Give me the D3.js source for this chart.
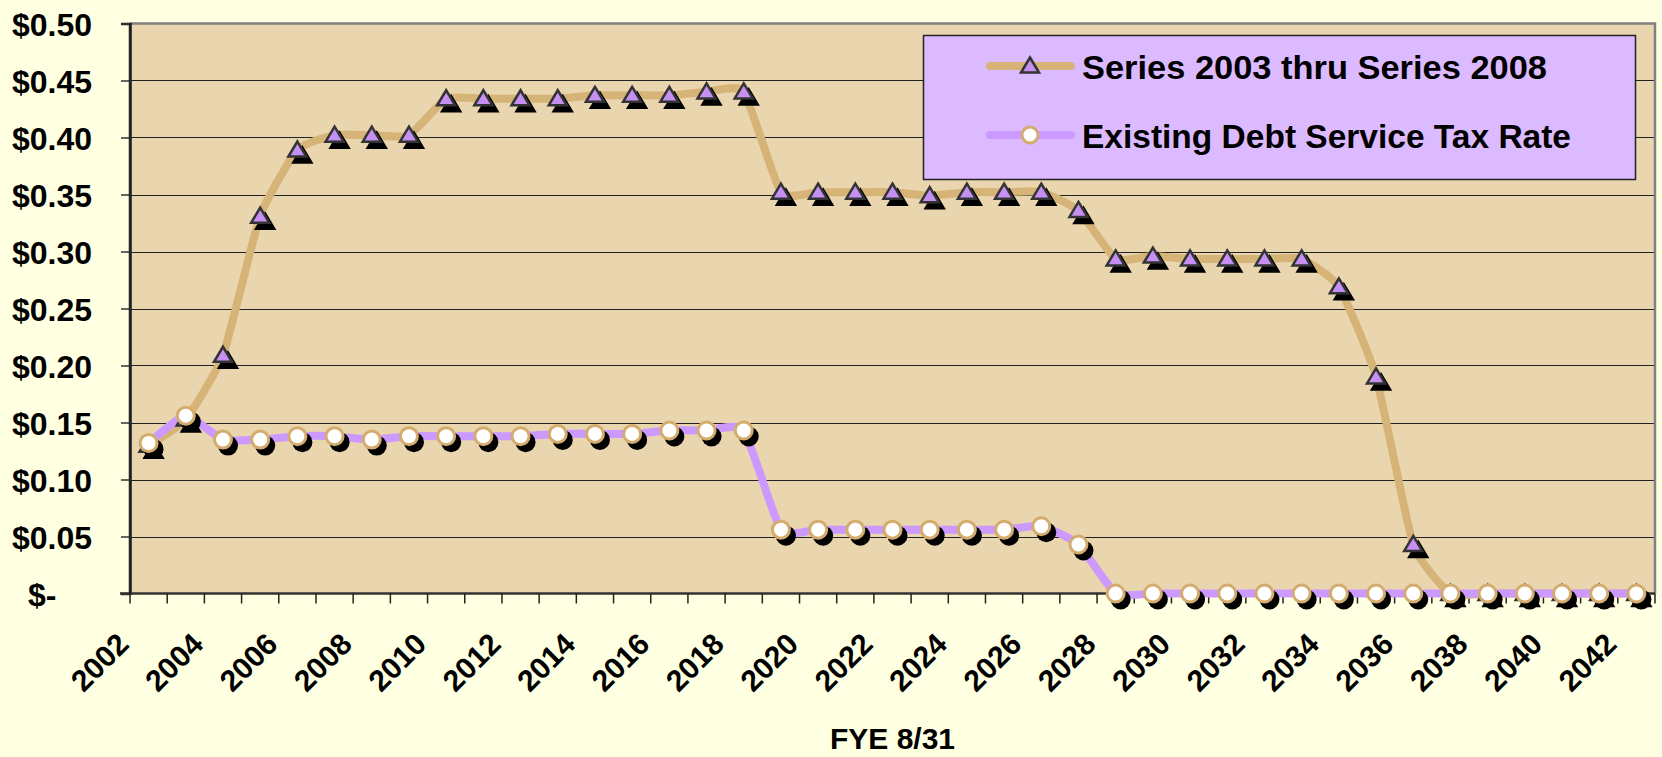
<!DOCTYPE html>
<html>
<head>
<meta charset="utf-8">
<script src="https://cdn.jsdelivr.net/npm/d3@7"></script>
<style>
  html, body { margin: 0; padding: 0; background: #FFFFE1; }
  svg { display: block; }
  text { font-family: "Liberation Sans", Arial, sans-serif; font-weight: bold; fill: #000; }
</style>
</head>
<body>
<svg id="chart" width="1662" height="757"></svg>
<script>
// ---- data ----
const categories = [2002,2003,2004,2005,2006,2007,2008,2009,2010,2011,2012,2013,2014,2015,2016,2017,2018,2019,2020,2021,2022,2023,2024,2025,2026,2027,2028,2029,2030,2031,2032,2033,2034,2035,2036,2037,2038,2039,2040,2041,2042];
const seriesNewName = "Series 2003 thru Series 2008";
const seriesNew = [0.130,0.153,0.209,0.331,0.389,0.402,0.402,0.402,0.434,0.434,0.434,0.434,0.437,0.437,0.437,0.440,0.440,0.352,0.352,0.352,0.352,0.349,0.352,0.352,0.352,0.336,0.2935,0.296,0.2935,0.2935,0.2935,0.2935,0.269,0.190,0.043,0,0,0,0,0,0];
const seriesExistingName = "Existing Debt Service Tax Rate";
const seriesExisting = [0.132,0.156,0.135,0.135,0.138,0.138,0.135,0.138,0.138,0.138,0.138,0.140,0.140,0.140,0.143,0.143,0.143,0.056,0.056,0.056,0.056,0.056,0.056,0.056,0.059,0.043,0,0,0,0,0,0,0,0,0,0,0,0,0,0,0];
const yTicks = [0,0.05,0.10,0.15,0.20,0.25,0.30,0.35,0.40,0.45,0.50];
const yTickLabels = ["$-","$0.05","$0.10","$0.15","$0.20","$0.25","$0.30","$0.35","$0.40","$0.45","$0.50"];
const xTickLabels = ["2002","2004","2006","2008","2010","2012","2014","2016","2018","2020","2022","2024","2026","2028","2030","2032","2034","2036","2038","2040","2042"];
const xAxisTitle = "FYE 8/31";

// ---- layout ----
const plot = { left: 130, right: 1655, top: 23.5, bottom: 593.5 };
const C = {
  bg: "#FFFFE1", plotBg: "#E9D5AE", legendBg: "#DCBAFF",
  tan: "#D6B478", purple: "#CC99FF", triFill: "#C690F2", triStroke: "#333333",
  circStroke: "#D4AC6E"
};

const svg = d3.select("#chart");
svg.append("rect").attr("width", 1662).attr("height", 757).attr("fill", C.bg);

const x = d3.scaleBand().domain(categories).range([plot.left, plot.right]).padding(0);
const cx = d => x(d) + x.bandwidth() / 2;
const y = d3.scaleLinear().domain([0, 0.5]).range([plot.bottom, plot.top]);

// plot area
svg.append("rect").attr("x", plot.left).attr("y", plot.top)
  .attr("width", plot.right - plot.left).attr("height", plot.bottom - plot.top)
  .attr("fill", C.plotBg);

// gridlines
svg.append("g").selectAll("line").data(yTicks.filter(v => v > 0 && v < 0.5)).join("line")
  .attr("x1", plot.left).attr("x2", plot.right)
  .attr("y1", d => Math.round(y(d)) + 0.5).attr("y2", d => Math.round(y(d)) + 0.5)
  .attr("stroke", "#222").attr("stroke-width", 1.2);

// plot border top/right
svg.append("path")
  .attr("d", `M${plot.left},${plot.top} L${plot.right},${plot.top} L${plot.right},${plot.bottom}`)
  .attr("fill", "none").attr("stroke", "#808080").attr("stroke-width", 2.5);

// y axis
const yAxis = d3.axisLeft(y).tickValues(yTicks).tickSize(9).tickFormat((d, i) => yTickLabels[i]);
const gy = svg.append("g").attr("transform", `translate(${plot.left},0)`).call(yAxis);
gy.select(".domain").attr("stroke", "#222").attr("stroke-width", 2.5);
gy.selectAll(".tick line").attr("stroke", "#333").attr("stroke-width", 1.5);
gy.selectAll(".tick text")
  .attr("x", d => d === 0 ? -102 : -38)
  .attr("text-anchor", d => d === 0 ? "start" : "end")
  .attr("dy", "0.36em")
  .style("font-size", "32px").style("font-family", "'Liberation Sans', Arial, sans-serif").style("font-weight", "bold");

// x axis (ticks between categories)
const gx = svg.append("g").attr("transform", `translate(0,${plot.bottom})`);
gx.append("line").attr("x1", plot.left - 10).attr("x2", plot.right).attr("y1", 0).attr("y2", 0)
  .attr("stroke", "#333").attr("stroke-width", 2.5);
const bounds = categories.map(c => x(c)).concat([plot.right]);
gx.selectAll("line.tk").data(bounds).join("line").attr("class", "tk")
  .attr("x1", d => d).attr("x2", d => d).attr("y1", 0).attr("y2", 10)
  .attr("stroke", "#222").attr("stroke-width", 1.5);
gx.selectAll("text").data(xTickLabels).join("text")
  .attr("transform", d => `translate(${cx(+d) - 18},${646 - plot.bottom}) rotate(-45)`)
  .attr("text-anchor", "end")
  .style("font-size", "30px")
  .text(d => d);

// axis title
svg.append("text").attr("x", (plot.left + plot.right) / 2).attr("y", 749)
  .attr("text-anchor", "middle").style("font-size", "30px").text(xAxisTitle);

// left axis line on top
svg.append("line").attr("x1", plot.left).attr("x2", plot.left).attr("y1", plot.top).attr("y2", plot.bottom)
  .attr("stroke", "#222").attr("stroke-width", 2.5);

// lines (mildly smoothed, like the spreadsheet "smoothed line" option)
const line = (arr) => d3.line()
  .x((d, i) => cx(categories[i])).y(d => y(d))
  .curve(d3.curveCardinal.tension(0.5))(arr);

svg.append("path").attr("d", line(seriesNew)).attr("fill", "none")
  .attr("stroke", C.tan).attr("stroke-width", 8).attr("stroke-linejoin", "round").attr("stroke-linecap", "round");
svg.append("path").attr("d", line(seriesExisting)).attr("fill", "none")
  .attr("stroke", C.purple).attr("stroke-width", 8).attr("stroke-linejoin", "round").attr("stroke-linecap", "round");

const triPath = "M0,-8.5 L9,6.5 L-9,6.5 Z";
const sh = { dx: 5, dy: 6 };

// triangle markers
const gTri = svg.append("g");
gTri.selectAll("path.sh").data(seriesNew).join("path").attr("class", "sh")
  .attr("d", triPath)
  .attr("transform", (d, i) => `translate(${cx(categories[i]) + sh.dx},${y(d) + sh.dy})`)
  .attr("fill", "#000").attr("stroke", "#000").attr("stroke-width", 2.5);
gTri.selectAll("path.mk").data(seriesNew).join("path").attr("class", "mk")
  .attr("d", triPath)
  .attr("transform", (d, i) => `translate(${cx(categories[i])},${y(d)})`)
  .attr("fill", C.triFill).attr("stroke", C.triStroke).attr("stroke-width", 2.5);

// circle markers
const gC = svg.append("g");
gC.selectAll("circle.sh").data(seriesExisting).join("circle").attr("class", "sh")
  .attr("cx", (d, i) => cx(categories[i]) + sh.dx).attr("cy", d => y(d) + sh.dy).attr("r", 10)
  .attr("fill", "#000");
gC.selectAll("circle.mk").data(seriesExisting).join("circle").attr("class", "mk")
  .attr("cx", (d, i) => cx(categories[i])).attr("cy", d => y(d)).attr("r", 8.5)
  .attr("fill", "#fff").attr("stroke", C.circStroke).attr("stroke-width", 3);

// legend
const lg = svg.append("g");
lg.append("rect").attr("x", 923.5).attr("y", 35.5).attr("width", 712).attr("height", 144)
  .attr("fill", C.legendBg).attr("stroke", "#222").attr("stroke-width", 1.5);
const entries = [
  { name: seriesNewName, color: C.tan, cy: 66, marker: "tri", len: 465 },
  { name: seriesExistingName, color: C.purple, cy: 135, marker: "circ", len: 489 }
];
entries.forEach(e => {
  lg.append("line").attr("x1", 990).attr("x2", 1071).attr("y1", e.cy).attr("y2", e.cy)
    .attr("stroke", e.color).attr("stroke-width", 8).attr("stroke-linecap", "round");
  if (e.marker === "tri") {
    lg.append("path").attr("d", triPath).attr("transform", `translate(1030,${e.cy})`)
      .attr("fill", C.triFill).attr("stroke", C.triStroke).attr("stroke-width", 2.5);
  } else {
    lg.append("circle").attr("cx", 1030).attr("cy", e.cy).attr("r", 8)
      .attr("fill", "#fff").attr("stroke", C.circStroke).attr("stroke-width", 3);
  }
  lg.append("text").attr("x", 1082).attr("y", e.cy + 13)
    .style("font-size", "33px")
    .attr("textLength", e.len).attr("lengthAdjust", "spacingAndGlyphs")
    .text(e.name);
});
</script>
</body>
</html>
